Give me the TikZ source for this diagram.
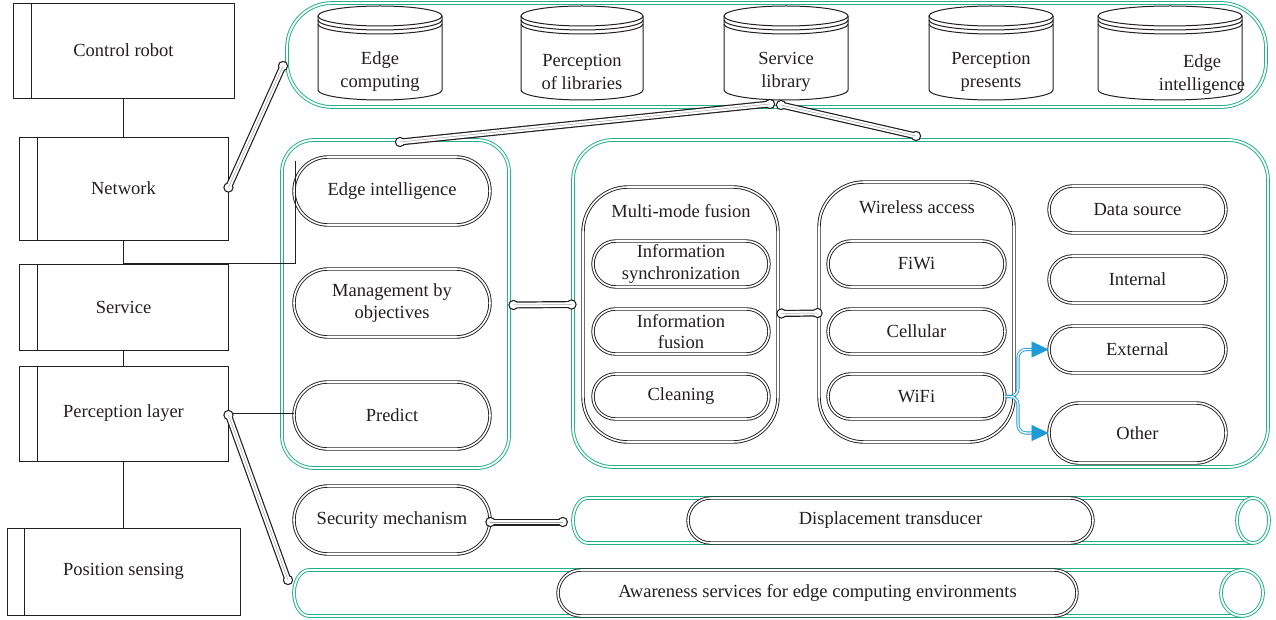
\documentclass[tikz,border=0pt]{standalone}
\usepackage{fontspec}
\setmainfont{Liberation Serif}
\usetikzlibrary{arrows.meta,calc}
\definecolor{grn}{RGB}{34,176,134}
\definecolor{blu}{RGB}{30,155,215}
\definecolor{ink}{RGB}{35,31,32}
\newcommand\pipeline[2]{%
  \fill[ink] (#1) circle[radius=5.2pt] (#2) circle[radius=5.2pt];
  \draw[ink, line width=7pt, line cap=round] (#1) -- (#2);
  \fill[white] (#1) circle[radius=3.9pt] (#2) circle[radius=3.9pt];
  \draw[white, line width=4.6pt, line cap=round] (#1) -- (#2);
  \draw[ink!40, line width=0.5pt] (#1) -- (#2);
}
\newcommand\cylnode[6]{% name, cx, rx, text, textx, texty
  \node[inner sep=0pt, minimum width={2*#3pt}, minimum height=94pt] (#1) at (#2,53) {};
  \draw[cylline] (#2-#3,16) -- (#2-#3,90) arc[start angle=180,end angle=360,x radius=#3pt,y radius=10pt] -- (#2+#3,16);
  \draw[cylline] (#2,16) ellipse[x radius=#3pt, y radius=10pt];
  \draw[cylline] (#2-#3,20) arc[start angle=180,end angle=360,x radius=#3pt,y radius=10pt];
  \draw[cylline] (#2-#3,24) arc[start angle=180,end angle=360,x radius=#3pt,y radius=10pt];
  \node[txt, font=\fontsize{18.5}{23}\selectfont] (#1t) at (#5,#6) {#4};
}
\begin{document}
\begin{tikzpicture}[x=1pt,y=-1pt,
  font=\fontsize{18.5}{21.5}\selectfont,
  txt/.style={text=ink, align=center, inner sep=0pt},
  layer/.style={draw=ink, line width=0.9pt, inner sep=0pt, text=ink, align=center},
  wire/.style={draw=ink, line width=0.9pt},
  cylline/.style={draw=ink, line width=1pt},
  gcont/.style={draw=grn, double=white, double distance=1.8pt, line width=0.95pt},
  gtube/.style={draw=grn, double=white, double distance=1.8pt, line width=0.95pt},
  pill/.style={draw=ink, double=white, double distance=1.6pt, line width=0.9pt, fill=white, text=ink, align=center, inner sep=0pt},
  bl/.style={draw=blu, double=white, double distance=1.4pt, line width=0.9pt},
]
\useasboundingbox (0,0) rectangle (1276,620);

% ---------- left layer boxes ----------
\node[layer, minimum width=221pt, minimum height=95pt] (cr) at (123.5,50.5) {Control robot};
\node[layer, minimum width=209pt, minimum height=103pt] (net) at (123.5,188.5) {Network};
\node[layer, minimum width=209pt, minimum height=86pt] (srv) at (123.5,307) {Service};
\node[layer, minimum width=209pt, minimum height=95pt] (per) at (123.5,413.5) {Perception layer};
\node[layer, minimum width=233pt, minimum height=87pt] (pos) at (123.5,571.5) {Position sensing};
\foreach \n/\s in {cr/19, net/19, srv/19, per/19, pos/18}
  \draw[wire] ([xshift=\s pt]\n.north west) -- ([xshift=\s pt]\n.south west);
\draw[wire] (cr) -- (net);
\draw[wire] (net) -- (srv);
\draw[wire] (srv) -- (per);
\draw[wire] (per) -- (pos);

% ---------- top container with libraries ----------
\node[gcont, rounded corners=45pt, minimum width=979pt, minimum height=104pt, inner sep=0pt] (gtop) at (776.5,55) {};
\cylnode{c1}{380}{62}{Edge\\computing}{380}{72}
\cylnode{c2}{582}{61}{Perception\\of libraries}{582}{72}
\cylnode{c3}{786}{62}{Service\\library}{786}{72}
\cylnode{c4}{991}{62}{Perception\\presents}{991}{72}
\cylnode{c5}{1170}{72}{Edge\\intelligence}{1202}{75}

% ---------- left container ----------
\node[gcont, rounded corners=32pt, minimum width=227pt, minimum height=328pt, inner sep=0pt] (gleft) at (395.5,304) {};
\node[pill, rounded corners=34pt, minimum width=196pt, minimum height=68pt] (ei) at (392,191) {Edge intelligence};
\node[pill, rounded corners=34pt, minimum width=196pt, minimum height=68pt] (mbo) at (392,303) {Management by\\objectives};
\node[pill, rounded corners=33.5pt, minimum width=196pt, minimum height=67pt] (pred) at (392,415.5) {Predict};

% ---------- right container ----------
\node[gcont, rounded corners=40pt, minimum width=695pt, minimum height=327pt, inner sep=0pt] (gright) at (920.5,303.5) {};
\node[pill, fill=none, rounded corners=45pt, minimum width=195pt, minimum height=255pt] (mmf) at (680.5,314.5) {};
\node[txt] (mmft) at (681,211) {Multi-mode fusion};
\node[pill, rounded corners=23pt, minimum width=176pt, minimum height=46pt] (is) at (681,264) {Information\\synchronization};
\node[pill, rounded corners=22.5pt, minimum width=176pt, minimum height=45pt] (if) at (681,331.5) {Information\\fusion};
\node[pill, rounded corners=22.5pt, minimum width=176pt, minimum height=45pt] (cl) at (681,396.5) {Cleaning};

\node[pill, fill=none, rounded corners=45pt, minimum width=195pt, minimum height=260pt] (wa) at (916.5,312) {};
\node[txt] (wat) at (917,207) {Wireless access};
\node[pill, rounded corners=23pt, minimum width=177pt, minimum height=46pt] (fiwi) at (916.5,264) {FiWi};
\node[pill, rounded corners=22.5pt, minimum width=177pt, minimum height=45pt] (cell) at (916.5,331.5) {Cellular};
\node[pill, rounded corners=22.5pt, minimum width=177pt, minimum height=45pt] (wifi) at (916.5,396.5) {WiFi};

\node[pill, rounded corners=23.5pt, minimum width=177pt, minimum height=47pt] (ds) at (1137.5,209.5) {Data source};
\node[pill, rounded corners=23.5pt, minimum width=177pt, minimum height=47pt] (int) at (1137.5,279.5) {Internal};
\node[pill, rounded corners=23.5pt, minimum width=177pt, minimum height=47pt] (ext) at (1137.5,349.5) {External};
\node[pill, rounded corners=30pt, minimum width=177pt, minimum height=60pt] (oth) at (1137.5,433) {Other};

% ---------- bottom ----------
\node[pill, rounded corners=34pt, minimum width=196pt, minimum height=68pt] (sec) at (392,520) {Security mechanism};
\node[inner sep=0pt, minimum width=696pt, minimum height=45pt] (dtube) at (921,520.5) {};
\draw[gtube] (1253,498) -- (588,498) arc[start angle=90, end angle=270, x radius=15pt, y radius=22.5pt] -- (1253,543);
\draw[gtube] (1253,520.5) ellipse[x radius=16pt, y radius=22.5pt];
\node[pill, rounded corners=22.5pt, minimum width=405pt, minimum height=45pt] (disp) at (890.5,520.5) {Displacement transducer};

\node[inner sep=0pt, minimum width=969pt, minimum height=46pt] (atube) at (778.5,593) {};
\draw[gtube] (1242,570) -- (309,570) arc[start angle=90, end angle=270, x radius=15pt, y radius=23pt] -- (1242,616);
\draw[gtube] (1242,593) ellipse[x radius=21pt, y radius=23pt];
\node[pill, rounded corners=23pt, minimum width=519pt, minimum height=46pt] (aw) at (817.5,593) {Awareness services for edge computing environments};

% ---------- plain wires ----------
\coordinate (eitop) at (295,161);
\draw[wire] (srv.north) -| (eitop);
\draw[wire] (per.east) -- (per.east -| pred.west);

% ---------- pipes ----------
\coordinate (p1a) at ($(net.east)+(0,-1)$);
\coordinate (p1b) at (283,66);
\coordinate (p2a) at (770,104);
\coordinate (p2b) at (400,142);
\coordinate (p3a) at (781,105);
\coordinate (p3b) at (916,136);
\coordinate (p4a) at ($(gleft.east)+(4,1)$);
\coordinate (p4b) at ($(gright.west)+(-1,1)$);
\coordinate (p5a) at ($(mmf.east)+(3,-1)$);
\coordinate (p5b) at ($(wa.west)+(-1,1)$);
\coordinate (p6a) at ($(sec.east)+(0,2)$);
\coordinate (p6b) at ($(dtube.west)+(-10,1.5)$);
\coordinate (p7a) at ($(per.east)+(0,1.5)$);
\coordinate (p7b) at (288,580);
\pipeline{p1a}{p1b}
\pipeline{p2a}{p2b}
\pipeline{p3a}{p3b}
\pipeline{p4a}{p4b}
\pipeline{p5a}{p5b}
\pipeline{p6a}{p6b}
\pipeline{p7a}{p7b}

% ---------- blue arrows ----------
\coordinate (bj) at (1018,396.5);
\draw[bl, rounded corners=8pt] (wifi.east) -- (bj) |- ($(ext.west)+(-16,0)$);
\draw[bl, rounded corners=8pt] (wifi.east) -- (bj) |- ($(oth.west)+(-16,0)$);
\draw[draw=blu, line width=0.8pt, -{Triangle[length=17pt,width=16pt]}] ($(ext.west)+(-17,0)$) -- (ext.west);
\draw[draw=blu, line width=0.8pt, -{Triangle[length=17pt,width=16pt]}] ($(oth.west)+(-17,0)$) -- (oth.west);
\end{tikzpicture}
\end{document}
